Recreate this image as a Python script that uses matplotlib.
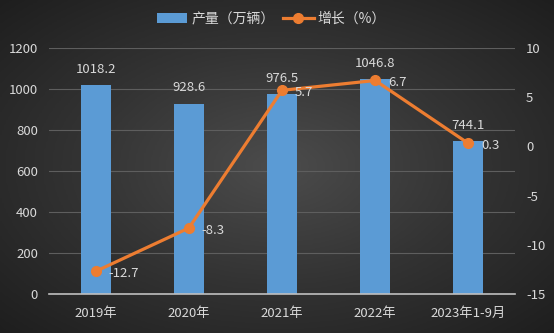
import numpy as np
import matplotlib
matplotlib.use("Agg")
import matplotlib.pyplot as plt
from matplotlib.colors import LinearSegmentedColormap

plt.rcParams['font.family'] = ['Noto Sans CJK SC', 'DejaVu Sans']
plt.rcParams['axes.unicode_minus'] = False

categories = ["2019年", "2020年", "2021年", "2022年", "2023年1-9月"]
production = [1018.2, 928.6, 976.5, 1046.8, 744.1]
growth = [-12.7, -8.3, 5.7, 6.7, 0.3]
left_ticks = [0, 200, 400, 600, 800, 1000, 1200]
right_ticks = [-15, -10, -5, 0, 5, 10]

W, H = 554, 333
fig = plt.figure(figsize=(W/100, H/100), dpi=100)

# background radial gradient
bg = fig.add_axes([0, 0, 1, 1])
yy, xx = np.mgrid[0:1:200j, 0:1:300j]
r = np.sqrt(((xx-0.5)/0.75)**2 + ((yy-0.5)/0.75)**2)
cmap = LinearSegmentedColormap.from_list("bg", ["#4c4c4c", "#333333", "#1e1e1e"])
bg.imshow(r, cmap=cmap, aspect='auto', extent=[0, 1, 0, 1], vmin=0, vmax=0.95)
bg.axis('off')

x0, x1 = 49/W, 515/W
y0, y1 = 1 - 294/H, 1 - 48/H
ax = fig.add_axes([x0, y0, x1-x0, y1-y0])
ax.patch.set_alpha(0)
ax2 = ax.twinx()

txt = "#d9d9d9"
x = np.arange(len(categories))
bars = ax.bar(x, production, width=0.32, color="#5b9bd5", zorder=2,
              label="产量（万辆）")
ax.set_xlim(-0.5, len(categories)-0.5)
ax.set_ylim(0, 1200)
ax.set_yticks(left_ticks)
ax.grid(axis='y', color="#5e5e5e", linewidth=0.8, zorder=0)
ax.set_axisbelow(True)
for s in ['top', 'right', 'left']:
    ax.spines[s].set_visible(False)
    ax2.spines[s].set_visible(False)
ax2.spines['bottom'].set_visible(False)
ax.spines['bottom'].set_color("#bfbfbf")
ax.spines['bottom'].set_linewidth(1.2)
ax.set_xticks(x)
ax.set_xticklabels(categories)
ax.tick_params(axis='both', length=0, colors=txt, labelsize=9.5)
ax.tick_params(axis='x', pad=9)
ax.tick_params(axis='y', pad=8)
for xi, v in zip(x, production):
    ax.text(xi, v + 45, f"{v:.1f}", ha='center', va='bottom', color=txt, fontsize=9.5)

line, = ax2.plot(x, growth, color="#ed7d31", linewidth=2.3, marker='o',
                 markersize=7, label="增长（%）", zorder=3)
ax2.set_ylim(-15, 10)
ax2.set_yticks(right_ticks)
ax2.tick_params(axis='y', length=0, colors=txt, labelsize=9.5, pad=8)
for xi, v in zip(x, growth):
    ax2.text(xi + 0.14, v - 0.2, f"{v:.1f}", ha='left', va='center', color=txt, fontsize=9.5)

leg = fig.legend(handles=[bars, line], labels=["产量（万辆）", "增长（%）"],
                 loc='center', bbox_to_anchor=(0.49, 1 - 19/H), ncol=2,
                 frameon=False, fontsize=10, handlelength=2.2, columnspacing=0.6,
                 handletextpad=0.3)
for t in leg.get_texts():
    t.set_color(txt)

fig.savefig("out.png", dpi=100)
